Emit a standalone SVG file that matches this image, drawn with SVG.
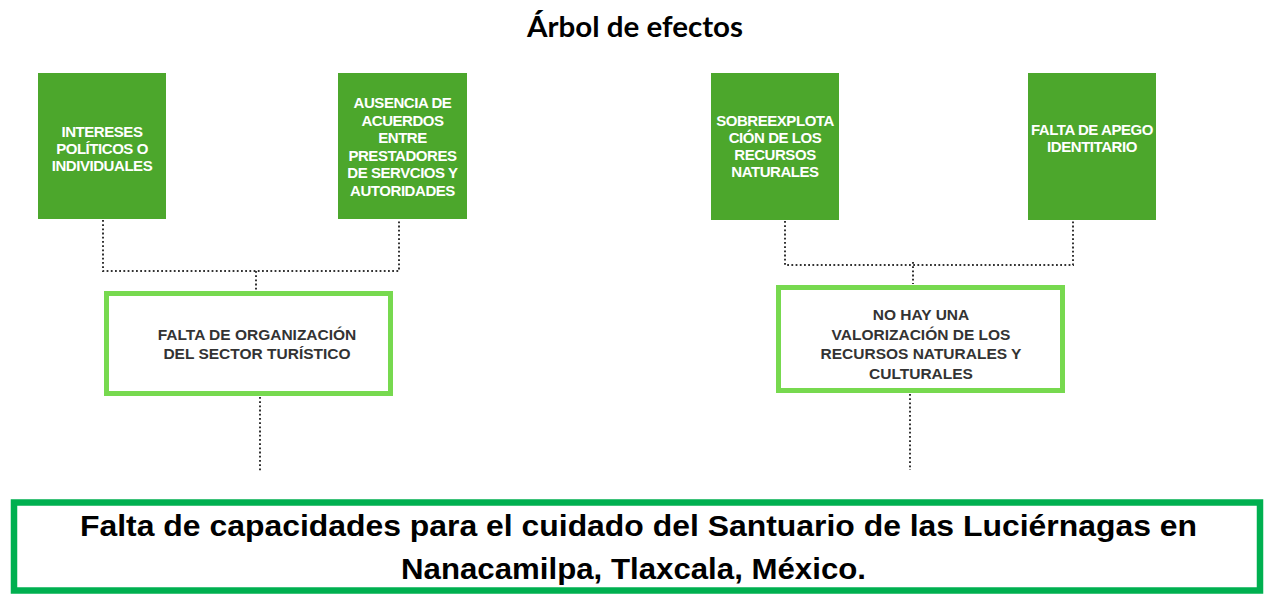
<svg xmlns="http://www.w3.org/2000/svg" width="1264" height="594" viewBox="0 0 1264 594">
<style>
.cause{fill:#4ca72c}
.ct{font-family:"Liberation Sans",Arial,sans-serif;font-weight:bold;font-size:15px;fill:#ffffff;text-anchor:middle;letter-spacing:-0.45px}
.eff{fill:#ffffff;stroke:#77d94f;stroke-width:5}
.et{font-family:"Liberation Sans",Arial,sans-serif;font-weight:bold;font-size:15.5px;fill:#333333;text-anchor:middle}
.dot{fill:none;stroke:#333333;stroke-width:2;stroke-dasharray:1.8 2.4}
.title{font-family:Lato,"Liberation Sans",sans-serif;font-weight:bold;font-size:29px;fill:#000;text-anchor:middle}
.main{font-family:"Liberation Sans",Arial,sans-serif;font-weight:bold;font-size:30px;fill:#000;text-anchor:middle}
</style>
<rect width="1264" height="594" fill="#ffffff"/>
<text class="title" x="635" y="37" textLength="216" lengthAdjust="spacingAndGlyphs">Árbol de efectos</text>

<g id="connectors">
<path class="dot" d="M103 220 V271 H399 V220"/>
<path class="dot" d="M256 271 V291"/>
<path class="dot" d="M260 397 V472"/>
<path class="dot" d="M785 221 V265 H1073 V221"/>
<path class="dot" d="M913 262 V284"/>
<path class="dot" d="M910 394 V470"/>
</g>

<g id="n1">
<rect class="cause" x="38" y="73" width="128" height="146"/>
<text class="ct" x="102" y="137">INTERESES</text>
<text class="ct" x="102" y="154">POLÍTICOS O</text>
<text class="ct" x="102" y="171">INDIVIDUALES</text>
</g>
<g id="n2">
<rect class="cause" x="338" y="73" width="129" height="146"/>
<text class="ct" x="402.5" y="108">AUSENCIA DE</text>
<text class="ct" x="402.5" y="125.5">ACUERDOS</text>
<text class="ct" x="402.5" y="143">ENTRE</text>
<text class="ct" x="402.5" y="160.5">PRESTADORES</text>
<text class="ct" x="402.5" y="178">DE SERVCIOS Y</text>
<text class="ct" x="402.5" y="195.5">AUTORIDADES</text>
</g>
<g id="n3">
<rect class="cause" x="711" y="73" width="128" height="147"/>
<text class="ct" x="775" y="126">SOBREEXPLOTA</text>
<text class="ct" x="775" y="143">CIÓN DE LOS</text>
<text class="ct" x="775" y="160">RECURSOS</text>
<text class="ct" x="775" y="177">NATURALES</text>
</g>
<g id="n4">
<rect class="cause" x="1028" y="73" width="128" height="147"/>
<text class="ct" x="1092" y="135">FALTA DE APEGO</text>
<text class="ct" x="1092" y="152">IDENTITARIO</text>
</g>

<g id="e1">
<rect class="eff" x="106.5" y="293.5" width="284" height="100"/>
<text class="et" x="257" y="340">FALTA DE ORGANIZACIÓN</text>
<text class="et" x="257" y="359">DEL SECTOR TURÍSTICO</text>
</g>
<g id="e2">
<rect class="eff" x="778.5" y="287.5" width="284" height="103"/>
<text class="et" x="921" y="320">NO HAY UNA</text>
<text class="et" x="921" y="339.5">VALORIZACIÓN DE LOS</text>
<text class="et" x="921" y="359">RECURSOS NATURALES Y</text>
<text class="et" x="921" y="378.5">CULTURALES</text>
</g>

<g id="problem">
<rect x="14" y="502.5" width="1246" height="88" fill="#ffffff" stroke="#00b050" stroke-width="6.5"/>
<text class="main" x="638.5" y="536" textLength="1117" lengthAdjust="spacingAndGlyphs">Falta de capacidades para el cuidado del Santuario de las Luciérnagas en</text>
<text class="main" x="633.5" y="579" textLength="465" lengthAdjust="spacingAndGlyphs">Nanacamilpa, Tlaxcala, México.</text>
</g>
</svg>
